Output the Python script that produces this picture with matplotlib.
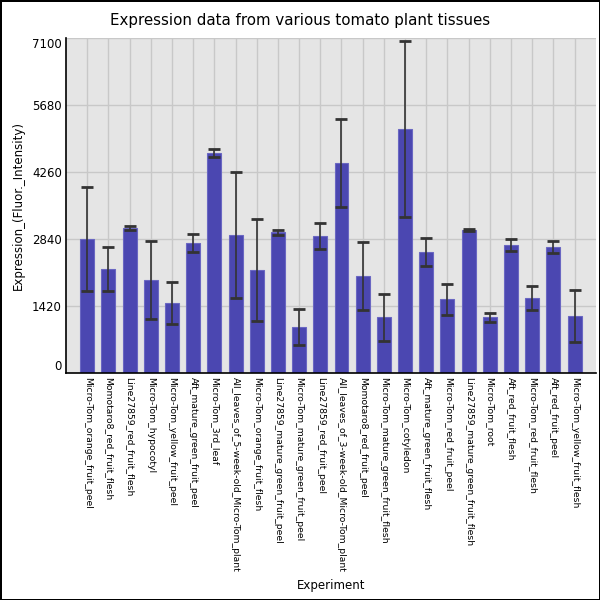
import numpy as np
from matplotlib import pyplot as plt

experiments = [
    'Micro-Tom_orange_fruit_peel', 'Momotaro8_red_fruit_flesh', 'Line27859_red_fruit_flesh',
    'Micro-Tom_hypocotyl', 'Micro-Tom_yellow_fruit_peel', 'Aft_mature_green_fruit_peel',
    'Micro-Tom_3rd_leaf', 'All_leaves_of_5-week-old_Micro-Tom_plant', 'Micro-Tom_orange_fruit_flesh',
    'Line27859_mature_green_fruit_peel', 'Micro-Tom_mature_green_fruit_peel', 'Line27859_red_fruit_peel',
    'All_leaves_of_3-week-old_Micro-Tom_plant', 'Momotaro8_red_fruit_peel',
    'Micro-Tom_mature_green_fruit_flesh', 'Micro-Tom_cotyledon', 'Aft_mature_green_fruit_flesh',
    'Micro-Tom_red_fruit_peel', 'Line27859_mature_green_fruit_flesh', 'Micro-Tom_root',
    'Aft_red_fruit_flesh', 'Micro-Tom_red_fruit_flesh', 'Aft_red_fruit_peel',
    'Micro-Tom_yellow_fruit_flesh',
]
expression = [2840, 2210, 3080, 1975, 1490, 2760, 4670, 2930, 2190, 2990, 980, 2910,
              4455, 2060, 1190, 5180, 2570, 1570, 3035, 1190, 2715, 1590, 2675, 1210]
error = [1105, 470, 45, 830, 440, 200, 95, 1340, 1075, 55, 380, 285,
         930, 730, 500, 1870, 300, 330, 25, 95, 130, 250, 127, 550]
yticks = [0, 1420, 2840, 4260, 5680, 7100]

fig = plt.figure(figsize=(6, 6), dpi=100)
fig.patch.set_edgecolor('black')
fig.patch.set_linewidth(2)
ax = fig.add_axes([0.11, 0.378, 0.883, 0.558])
ax.set_facecolor('#e5e5e5')

x = np.arange(len(experiments))
ax.bar(x, expression, width=0.66, color='#4b47b1', edgecolor='#6a67c2', linewidth=0.8, zorder=2)
eb = ax.errorbar(x, expression, yerr=error, fmt='none', ecolor='#333333', elinewidth=1.2,
                 capsize=4.3, capthick=2, zorder=3)
for cap in eb[1]:
    cap.set_color('black')

ax.set_xlim(-1, len(experiments))
ax.set_ylim(0, 7100)
ax.set_yticks(yticks)
ax.set_yticklabels([str(t) for t in yticks], fontsize=8.5)
# end labels sit inside the axis range like the original
ylabs = ax.get_yticklabels()
ylabs[0].set_va('bottom')
ylabs[-1].set_va('top')
ax.set_xticks(x)
ax.set_xticklabels(experiments, rotation=270, fontsize=6.7, ha='center', va='top')
ax.tick_params(axis='both', length=0, pad=3)
ax.grid(True, color='#c8c8c8', linewidth=1, zorder=0)
ax.set_axisbelow(True)
for s in ['top', 'right']:
    ax.spines[s].set_visible(False)
ax.spines['left'].set_linewidth(1.2)
ax.spines['bottom'].set_linewidth(1.2)

fig.text(18 / 600, 1 - 205 / 600, 'Expression_(Fluor._Intensity)', rotation=90,
         ha='center', va='center', fontsize=8.5)
fig.text(331 / 600, 1 - 585 / 600, 'Experiment', ha='center', va='center', fontsize=8.5)
fig.text(0.5, 0.966, 'Expression data from various tomato plant tissues', ha='center', va='center', fontsize=10.8)

plt.savefig('out.png', dpi=100, edgecolor=fig.get_edgecolor())
